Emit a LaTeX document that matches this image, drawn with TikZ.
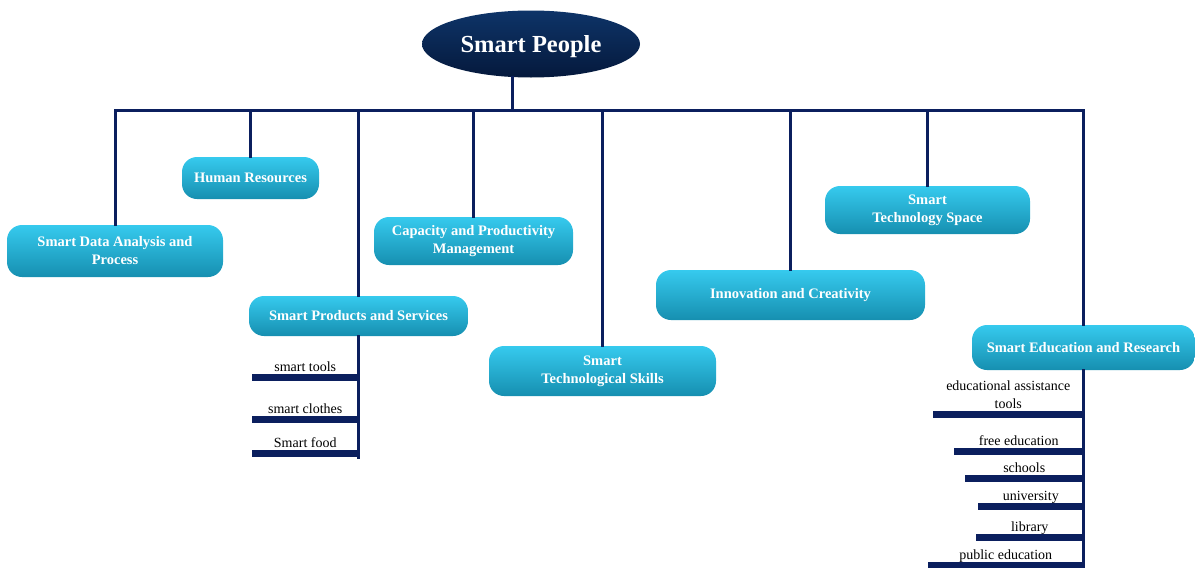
\documentclass[tikz,border=0pt]{standalone}
\usepackage{fontspec}
\setmainfont{Liberation Serif}
\usetikzlibrary{shapes.geometric,positioning}
\definecolor{navy}{HTML}{0B1F5E}
\definecolor{rootTop}{HTML}{0E3468}
\definecolor{rootBot}{HTML}{05193C}
\definecolor{boxTop}{HTML}{36CAEE}
\definecolor{boxBot}{HTML}{168FB0}

\begin{document}
\begin{tikzpicture}[x=1pt,y=-1pt]
	\tikzstyle{root}=[ellipse, top color=rootTop, bottom color=rootBot, text=white, minimum width=218pt, minimum height=67pt, inner sep=0pt, text depth=0pt, font=\bfseries\fontsize{24.5}{28}\selectfont]
	\tikzstyle{topic}=[rounded corners=15pt, top color=boxTop, bottom color=boxBot, text=white, align=center, inner sep=0pt, font=\bfseries\fontsize{14.5}{18}\selectfont]
	\tikzstyle{link}=[draw=navy, line width=3pt, line cap=rect]
	\tikzstyle{bar}=[draw=navy, line width=7pt]
	\tikzstyle{leaf}=[align=center, inner sep=0pt, text depth=0pt, font=\fontsize{14}{18}\selectfont]

	\useasboundingbox (0,0) rectangle (1195,568);

	% Draw the root node
	\node[root] (root) at (531,44) {Smart People};

	% Draw the topic nodes
	\node[topic, minimum width=216pt, minimum height=52pt] (data) at (115,251) {Smart Data Analysis and\\Process};
	\node[topic, minimum width=137pt, minimum height=42pt] (hr) at (250.5,178) {Human Resources};
	\node[topic, minimum width=219pt, minimum height=40pt] (prod) at (358.5,316) {Smart Products and Services};
	\node[topic, minimum width=199pt, minimum height=48pt] (cap) at (473.5,241) {Capacity and Productivity\\Management};
	\node[topic, minimum width=227pt, minimum height=50pt] (skills) at (602.5,371) {Smart\\Technological Skills};
	\node[topic, minimum width=269pt, minimum height=50pt] (innov) at (790.5,295) {Innovation and Creativity};
	\node[topic, minimum width=205pt, minimum height=48pt] (space) at (927.5,210) {Smart\\Technology Space};
	\node[topic, minimum width=223pt, minimum height=45pt] (edu) at (1083.5,347.5) {Smart Education and Research};

	% Draw the bus under the root
	\coordinate (bus-L) at (115,110);
	\coordinate (bus-R) at (1083,110);
	\coordinate (stem) at (512,110);
	\draw[link] (bus-L) -- (bus-R);
	\draw[link] (root.south -| stem) -- (stem);

	% Connect every topic node with the bus
	\foreach \name in {data,hr,prod,cap,skills,innov,space,edu}
	\draw[link] (\name.north) -- (\name.north |- bus-L);

	% Draw the leaves of Smart Products and Services
	\coordinate (prod-end) at (358.5,457);
	\draw[link] (prod.south) -- (prod-end);
	\foreach \i/\y/\xl/\txt in {1/377/252/smart tools, 2/419/252/smart clothes, 3/453/252/Smart food}
	\draw[bar] (\xl,\y) coordinate (pl-\i) -- (pl-\i -| prod) node[leaf, midway, above=2pt] (pt-\i) {\txt};

	% Draw the leaves of Smart Education and Research
	\coordinate (edu-end) at (1083.5,568);
	\draw[link] (edu.south) -- (edu-end);
	\foreach \i/\y/\xl/\txt in {1/414/933/{educational assistance\\tools}, 2/451/954/free education, 3/478/965/schools, 4/506/978/university, 5/537/976/library, 6/565/928/public education}
	\draw[bar] (\xl,\y) coordinate (el-\i) -- (el-\i -| edu) node[leaf, midway, above=2pt] (et-\i) {\txt};

\end{tikzpicture}
\end{document}
